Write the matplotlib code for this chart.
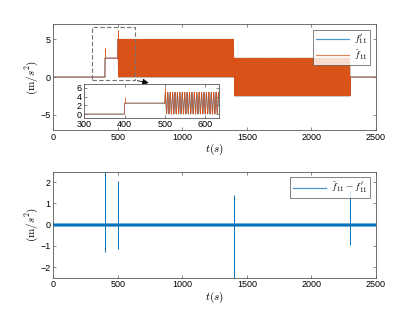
import numpy as np
import matplotlib.pyplot as plt
from matplotlib.patches import Rectangle

plt.rcParams['font.family'] = 'Liberation Sans'
plt.rcParams['mathtext.fontset'] = 'cm'

BLUE = '#0072BD'
ORANGE = '#D95319'

# piecewise description of f'_11
seg_t = [0, 400, 500, 1400, 2300, 2500]
seg_offset = [0.0, 2.5, 2.5, 0.0, 0.0]
seg_amp = [0.0, 0.0, 2.5, 2.5, 0.0]
osc_period = 6.0  # s

# overshoot spikes of the estimate (top plot)
spike_t = [400, 500]
spike_base = [2.5, 2.5]
spike_top = [3.9, 6.2]

# estimation error spikes (bottom plot)
err_t = [400, 500, 1400, 2300]
err_hi = [2.6, 2.05, 1.38, 1.6]
err_lo = [-1.3, -1.15, -2.6, -0.97]
err_band = 0.09

# zoom box shown on top plot
box_x = [300, 630]
box_y = [-0.4, 6.6]

t = np.arange(seg_t[0], seg_t[-1] + 0.1, 0.2)
f = np.zeros_like(t)
for i in range(len(seg_offset)):
    m = (t >= seg_t[i]) & (t < seg_t[i + 1])
    f[m] = seg_offset[i] + seg_amp[i] * np.sin(2 * np.pi * (t[m] - seg_t[i]) / osc_period)


def style(ax, fs=6.5):
    for s in ax.spines.values():
        s.set_color('0.35')
        s.set_linewidth(0.6)
    ax.tick_params(direction='in', top=True, right=True, length=2.5, width=0.5,
                   colors='0.35', labelcolor='black', labelsize=fs, pad=2)


def legend(ax):
    lg = ax.legend(loc='upper right', fontsize=7, handlelength=3.4, fancybox=False,
                   edgecolor='0.3', borderaxespad=0.6, labelspacing=0.1,
                   borderpad=0.3, handletextpad=0.5)
    lg.get_frame().set_linewidth(0.6)
    for l in lg.get_lines():
        l.set_linewidth(0.9)
        l.set_alpha(0.7)
    return lg


fig = plt.figure(figsize=(4.15, 3.12), dpi=100)
ax1 = fig.add_axes([0.1285, 0.583, 0.7776, 0.340])
ax2 = fig.add_axes([0.1285, 0.110, 0.7776, 0.340])

# top: signal and its estimate
ax1.plot(t, f, color=BLUE, lw=0.6, label=r"$f^{\prime}_{11}$")
ax1.plot(t, f, color=ORANGE, lw=0.6, label=r"$\hat{f}_{11}$")
ax1.vlines(spike_t, spike_base, spike_top, color=ORANGE, lw=0.7)
ax1.set_xlim(0, 2500)
ax1.set_ylim(-7, 7)
ax1.set_yticks([-5, 0, 5])
ax1.set_xticks([0, 500, 1000, 1500, 2000, 2500])
ax1.set_xlabel(r'$t(s)$', fontsize=8, labelpad=0)
ax1.set_ylabel(r'$(\mathrm{m}/s^2)$', fontsize=8, labelpad=0)
style(ax1)
legend(ax1)

ax1.add_patch(Rectangle((box_x[0], box_y[0]), box_x[1] - box_x[0], box_y[1] - box_y[0],
                        fill=False, ls=(0, (4, 2)), lw=0.8, ec='0.45', zorder=5))
ax1.annotate('', xy=(760, -0.85), xytext=(box_x[1], box_y[0]),
             arrowprops=dict(arrowstyle='-|>', color='k', lw=0.6, mutation_scale=9),
             zorder=6)

# inset
axi = fig.add_axes([0.203, 0.623, 0.325, 0.107])
axi.plot(t, f, color=BLUE, lw=0.5)
axi.plot(t, f, color=ORANGE, lw=0.5)
axi.vlines(spike_t, spike_base, spike_top, color=ORANGE, lw=0.6)
axi.set_xlim(300, 635)
axi.set_ylim(-0.8, 6.8)
axi.set_xticks([300, 400, 500, 600])
axi.set_yticks([0, 2, 4, 6])
style(axi)

# bottom: estimation error
ax2.fill_between([0, 2500], [-err_band, -err_band], [err_band, err_band],
                 color=BLUE, alpha=0.5, lw=0)
ax2.plot([0, 2500], [0, 0], color=BLUE, lw=1.6, label=r"$\hat{f}_{11}-f^{\prime}_{11}$")
ax2.vlines(err_t, err_lo, err_hi, color=BLUE, lw=0.7)
ax2.set_xlim(0, 2500)
ax2.set_ylim(-2.5, 2.5)
ax2.set_yticks([-2, -1, 0, 1, 2])
ax2.set_xticks([0, 500, 1000, 1500, 2000, 2500])
ax2.set_xlabel(r'$t(s)$', fontsize=8, labelpad=0)
ax2.set_ylabel(r'$(\mathrm{m}/s^2)$', fontsize=8, labelpad=0)
style(ax2)
legend(ax2)

fig.savefig('out.png', dpi=100)
